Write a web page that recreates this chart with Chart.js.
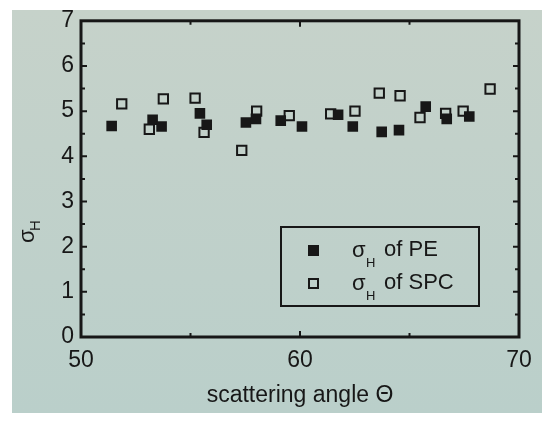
<!DOCTYPE html>
<html>
<head>
<meta charset="utf-8">
<script src="https://cdn.jsdelivr.net/npm/chart.js@4.4.1/dist/chart.umd.min.js"></script>
<style>
  html, body { margin: 0; padding: 0; background: #fff; }
  canvas { display: block; }
</style>
</head>
<body>
<canvas id="graph" width="550" height="427"></canvas>
<script>
// scattering angle (deg) and sigma_H
const peAngle  = [51.4, 53.27, 53.68, 55.43, 55.74, 57.53, 57.99, 59.12, 60.09, 61.74, 62.41, 63.73, 64.52, 65.74, 66.7, 67.73];
const peSigma  = [4.67, 4.81, 4.66, 4.95, 4.70, 4.75, 4.83, 4.79, 4.66, 4.92, 4.66, 4.54, 4.58, 5.10, 4.83, 4.88];
const spcAngle = [51.86, 53.12, 53.76, 55.21, 55.62, 57.34, 58.02, 59.51, 61.4, 62.51, 63.62, 64.57, 65.48, 66.65, 67.45, 68.68];
const spcSigma = [5.16, 4.60, 5.27, 5.29, 4.53, 4.13, 5.00, 4.90, 4.94, 5.00, 5.40, 5.34, 4.86, 4.95, 5.00, 5.49];
const xTickLabels = [50, 60, 70];
const legendLabels = ['of PE', 'of SPC'];

const ink = '#171717';
const fontFamily = '"Liberation Sans", Arial, sans-serif';

function toPoints(xs, ys) {
    return xs.map((x, i) => ({ x: x, y: ys[i] }));
}

// photo-like backdrop
const backdrop = {
    id: 'backdrop',
    beforeDraw(chart) {
        const ctx = chart.ctx;
        ctx.save();
        ctx.fillStyle = '#ffffff';
        ctx.fillRect(0, 0, chart.width, chart.height);
        const g = ctx.createLinearGradient(0, 10, 0, 413);
        g.addColorStop(0, '#c6d2ca');
        g.addColorStop(1, '#bacfca');
        ctx.fillStyle = g;
        ctx.fillRect(12, 10, 530, 403);
        ctx.restore();
    }
};

// frame, inward ticks, legend and y title
const decorations = {
    id: 'decorations',
    afterDraw(chart) {
        const ctx = chart.ctx;
        const a = chart.chartArea;
        const xs = chart.scales.x;
        const ys = chart.scales.y;
        ctx.save();
        ctx.strokeStyle = ink;
        ctx.fillStyle = ink;

        // ticks
        ctx.lineWidth = 2;
        for (let v = 0.5; v < 7; v += 0.5) {
            const py = ys.getPixelForValue(v);
            const len = Number.isInteger(v) ? 6 : 4;
            ctx.beginPath();
            ctx.moveTo(a.left, py); ctx.lineTo(a.left + len, py);
            ctx.moveTo(a.right, py); ctx.lineTo(a.right - len, py);
            ctx.stroke();
        }
        for (let v = 55; v < 70; v += 5) {
            const px = xs.getPixelForValue(v);
            const len = v % 10 === 0 ? 6 : 4;
            ctx.beginPath();
            ctx.moveTo(px, a.top); ctx.lineTo(px, a.top + len);
            ctx.moveTo(px, a.bottom); ctx.lineTo(px, a.bottom - len);
            ctx.stroke();
        }

        // frame
        ctx.lineWidth = 3;
        ctx.strokeRect(a.left, a.top, a.right - a.left, a.bottom - a.top);

        // legend
        const bx = 281, by = 227, bw = 198, bh = 79;
        ctx.lineWidth = 2;
        ctx.strokeRect(bx, by, bw, bh);
        const rows = [250, 283];
        rows.forEach((ry, i) => {
            if (i === 0) {
                ctx.fillRect(308, ry - 5, 11, 11);
            } else {
                ctx.lineWidth = 2;
                ctx.strokeRect(309, ry - 4, 9, 9);
            }
            ctx.textBaseline = 'middle';
            ctx.textAlign = 'left';
            ctx.font = '22px ' + fontFamily;
            ctx.fillText('σ', 352, ry + 1);
            ctx.font = '13px ' + fontFamily;
            ctx.fillText('H', 366, ry + 13);
            ctx.font = '22px ' + fontFamily;
            ctx.fillText(legendLabels[i], 384, ry);
        });

        // y axis title
        ctx.translate(30, 231);
        ctx.rotate(-Math.PI / 2);
        ctx.textBaseline = 'middle';
        ctx.textAlign = 'left';
        ctx.font = '22px ' + fontFamily;
        ctx.fillText('σ', -12, -2);
        ctx.font = '15px ' + fontFamily;
        ctx.fillText('H', 0, 6);
        ctx.restore();
    }
};

const chart = new Chart(document.getElementById('graph').getContext('2d'), {
    type: 'scatter',
    data: {
        datasets: [
            {
                label: 'σH of PE',
                data: toPoints(peAngle, peSigma),
                pointStyle: 'rect',
                pointRadius: 7.5,
                backgroundColor: ink,
                borderColor: ink,
                borderWidth: 0
            },
            {
                label: 'σH of SPC',
                data: toPoints(spcAngle, spcSigma),
                pointStyle: 'rect',
                pointRadius: 6.6,
                backgroundColor: 'rgba(0,0,0,0)',
                borderColor: ink,
                borderWidth: 2
            }
        ]
    },
    options: {
        responsive: false,
        devicePixelRatio: 1,
        animation: false,
        layout: { padding: { top: 20, right: 31, left: 0, bottom: 0 } },
        plugins: {
            legend: { display: false },
            tooltip: { enabled: false }
        },
        scales: {
            x: {
                type: 'linear',
                min: 50,
                max: 70,
                afterFit: s => { s.height = 90; },
                grid: { display: false, drawTicks: false },
                border: { display: false },
                ticks: {
                    stepSize: 5,
                    autoSkip: false,
                    maxRotation: 0,
                    padding: 10,
                    color: ink,
                    font: { family: fontFamily, size: 23 },
                    callback: v => xTickLabels.includes(v) ? String(v) : ''
                },
                title: {
                    display: true,
                    text: 'scattering angle Θ',
                    color: ink,
                    font: { family: fontFamily, size: 23 },
                    padding: { top: 4, bottom: 18 }
                }
            },
            y: {
                min: 0,
                max: 7,
                afterFit: s => { s.width = 81; },
                grid: { display: false, drawTicks: false },
                border: { display: false },
                ticks: {
                    stepSize: 1,
                    padding: 7,
                    color: ink,
                    font: { family: fontFamily, size: 23 }
                }
            }
        }
    },
    plugins: [backdrop, decorations]
});
</script>
</body>
</html>
